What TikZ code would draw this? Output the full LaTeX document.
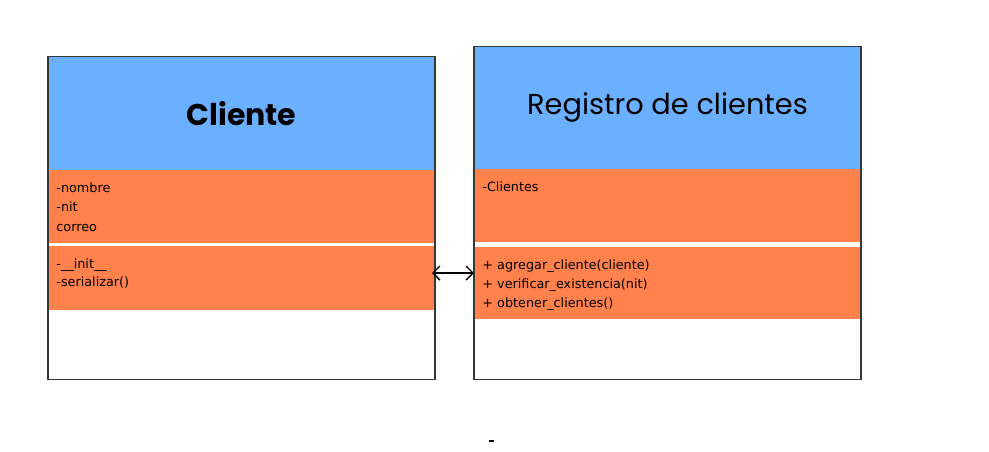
\documentclass[tikz,border=0pt]{standalone}
\usepackage{fontspec}
\setmainfont{DejaVu Sans}
\newfontfamily\titlefont{Poppins}
\usetikzlibrary{arrows.meta,calc}
\definecolor{headblue}{RGB}{106,176,255}
\definecolor{memberorange}{RGB}{255,129,75}
\definecolor{edgegray}{RGB}{55,55,55}

\begin{document}
\begin{tikzpicture}[x=0.5pt,y=-0.5pt,
		part/.style={minimum width=193.5pt,inner sep=0pt,outer sep=0pt},
		head/.style={part,fill=headblue,font=\titlefont\fontsize{15}{18}\selectfont},
		members/.style={part,fill=memberorange},
		blank/.style={part,fill=white},
		member/.style={anchor=base west,inner sep=0pt,font=\fontsize{6.4}{7.7}\selectfont},
		outline/.style={draw=edgegray,line width=0.6pt}]
				\useasboundingbox (0,0) rectangle (989,451);
				% Cliente
				\node[head,minimum height=56.65pt] (chead) at (241.5,113.35) {\bfseries Cliente};
				\node[members,minimum height=36.35pt] (cattr) at (241.5,206.35) {};
				\node[members,minimum height=31.75pt] (cops) at (241.5,277.75) {};
				\node[blank,minimum height=34.9pt] (cblank) at (241.5,344.4) {};
				\draw[outline] (chead.north west) rectangle (cblank.south east);
				\foreach \txt [count=\i] in {-nombre,-nit,correo}
					\node[member] (catt\i) at (56,{172.5+\i*19.6}) {\txt};
				\foreach \txt [count=\i] in {-\_\_init\_\_,-serializar()}
					\node[member] (cop\i) at (56,{249.5+\i*18.5}) {\txt};
				% Registro de clientes
				\node[head,minimum height=61.5pt,font=\titlefont\fontsize{14.4}{17}\selectfont] (rhead) at (667.5,107.8) {Registro de clientes};
				\node[members,minimum height=36.5pt] (rattr) at (667.5,205.8) {};
				\node[members,minimum height=36.3pt] (rops) at (667.5,283) {};
				\node[blank,minimum height=30pt] (rblank) at (667.5,349.3) {};
				\draw[outline] (rhead.north west) rectangle (rblank.south east);
				\node[member] (ratt1) at (482,191) {-Clientes};
				\foreach \txt [count=\i] in {+ agregar\_cliente(cliente),+ verificar\_existencia(nit),+ obtener\_clientes()}
					\node[member] (rop\i) at (482,{250+\i*19}) {\txt};
				% relacion
				\coordinate (link) at (0,273);
				\draw[{Straight Barb[length=3.5pt,width=7pt]}-{Straight Barb[length=3.5pt,width=7pt]},line width=0.7pt]
					($(cops.east |- link)+(-3,0)$) -- (rops.west |- link);
				\draw[line width=1pt] (489,441) -- (494,441);
			\end{tikzpicture}
\end{document}
